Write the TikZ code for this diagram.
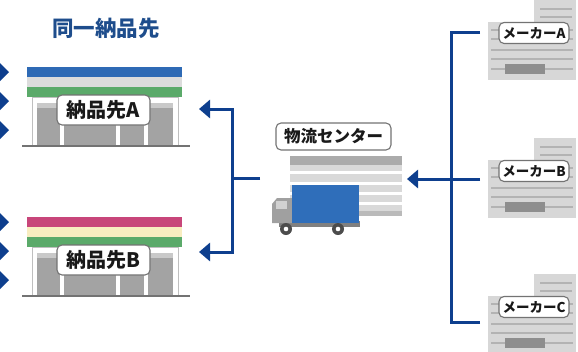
\documentclass[tikz,border=0pt]{standalone}
\usepackage{fontspec}
\setmainfont{Noto Sans CJK JP}
\usetikzlibrary{arrows.meta}

\definecolor{navy}{HTML}{0E3F8E}
\definecolor{titleblue}{HTML}{1E4D8C}
\definecolor{famblue}{HTML}{2E6AB5}
\definecolor{famgray}{HTML}{DCDCDC}
\definecolor{famgreen}{HTML}{5BAA6A}
\definecolor{sevred}{HTML}{C8467A}
\definecolor{sevcream}{HTML}{F8EDC0}
\definecolor{shutter}{HTML}{A3A3A3}
\definecolor{shutterlt}{HTML}{C9C9C9}
\definecolor{plant}{HTML}{D7D7D7}
\definecolor{plantline}{HTML}{B3B3B3}
\definecolor{plantdark}{HTML}{8E8E8E}
\definecolor{truckblue}{HTML}{2F6EBA}
\definecolor{truckgray}{HTML}{A0A0A0}

\tikzset{
  tagbox/.style={draw=black!55, line width=1.1pt, fill=white, rounded corners=5pt,
    inner sep=0pt, font=\bfseries, text=black!90},
  conn/.style={draw=navy, line width=3pt},
  arr/.style={conn, -{Triangle[length=11pt,width=18pt]}},
  tip/.style={fill=navy},
}

% storefront: #1 y-offset, #2 node name, #3 #4 #5 awning colours, #6 label
\newcommand{\shopfront}[6]{%
  \begin{scope}[shift={(0,#1)}]
    \fill[#3] (27,67) rectangle (182,77);
    \fill[#4] (27,77) rectangle (182,87);
    \fill[#5] (27,87) rectangle (182,97);
    \draw[black!25, line width=0.8pt, fill=white] (32,97) rectangle (178,145);
    \fill[shutterlt] (37,103) rectangle (173,108);
    \fill[shutter] (37,108) rectangle (173,145);
    \foreach \px in {60,116,144} \fill[white] (\px,103) rectangle (\px+4,145);
    \draw[black!55, line width=2pt] (22,145.5) -- (190,145.5);
    \node[tagbox, minimum width=93pt, minimum height=30pt, font=\bfseries\fontsize{20}{20}\selectfont]
      (#2) at (103.5,110) {#6};
  \end{scope}}

% factory: #1 y-offset, #2 node name, #3 label
\newcommand{\makerplant}[3]{%
  \begin{scope}[shift={(0,#1)}]
    \fill[plant] (534,-22) rectangle (576,4);
    \draw[plantline, line width=1.6pt] (540,-13) -- (572,-13) (540,-5) -- (572,-5);
    \fill[plant] (488,0) rectangle (576,58);
    \foreach \ly in {8,17,28,37,47}
      \draw[plantline, line width=1.6pt] (491,\ly) -- (573,\ly);
    \fill[plantdark] (505,42) rectangle (545,52);
    \node[tagbox, minimum width=70pt, minimum height=21pt, font=\bfseries\fontsize{13.5}{13.5}\selectfont]
      (#2) at (534,11) {#3};
  \end{scope}}

\begin{document}
\begin{tikzpicture}[x=1pt, y=-1pt]
\useasboundingbox (0,0) rectangle (578,351);

% heading
\node[text=titleblue, font=\bfseries\fontsize{21.5}{21.5}\selectfont] (title) at (106,28) {同一納品先};

% incoming arrowheads on the left edge
\foreach \cy in {72,101,130,222,251,280}
  \fill[tip] (0,\cy-9) -- (9,\cy) -- (0,\cy+9) -- cycle;

% the two stores
\shopfront{0}{shopA}{famblue}{famgray}{famgreen}{納品先A}
\shopfront{150}{shopB}{sevred}{sevcream}{famgreen}{納品先B}

% distribution centre: warehouse
\fill[black!15] (290,156) rectangle (402,216);
\fill[black!33] (290,156) rectangle (402,165);
\foreach \wy in {172,183,193,203}
  \fill[white] (290,\wy-1.5) rectangle (402,\wy+1.5);
\fill[black!27] (290,211) rectangle (402,216);

% truck
\fill[black!50] (279,221) rectangle (360,227);
\fill[truckgray] (272,223) -- (272,204) -- (277,198) -- (292,198) -- (292,223) -- cycle;
\fill[black!18] (276,201) rectangle (287,209);
\fill[truckblue] (292,185) rectangle (359,223);
\foreach \wx in {286,338} {
  \fill[black!70] (\wx,229) circle (6pt);
  \fill[white] (\wx,229) circle (2.3pt);
}
\node[tagbox, minimum width=115pt, minimum height=27pt, font=\bfseries\fontsize{16.5}{16.5}\selectfont]
  (dc) at (333.5,136.5) {物流センター};

% manufacturers
\makerplant{22}{makerA}{メーカーA}
\makerplant{160}{makerB}{メーカーB}
\makerplant{296}{makerC}{メーカーC}

% connector end points
\coordinate (dcOut) at (260,178);
\coordinate (hubL) at (232,178);
\coordinate (shopAin) at (199,109);
\coordinate (shopBin) at (199,252);
\coordinate (dcIn) at (407,179);
\coordinate (hubR) at (451,179);
\coordinate (makerAout) at (480,32);
\coordinate (makerBout) at (480,179);
\coordinate (makerCout) at (480,322);

% distribution centre -> stores
\draw[conn] (dcOut) -- (hubL);
\draw[arr] (hubL) |- (shopAin);
\draw[arr] (hubL) |- (shopBin);

% manufacturers -> distribution centre
\draw[conn] (makerAout) -| (hubR);
\draw[conn] (makerCout) -| (hubR);
\draw[arr] (makerBout) -- (dcIn);
\end{tikzpicture}
\end{document}
